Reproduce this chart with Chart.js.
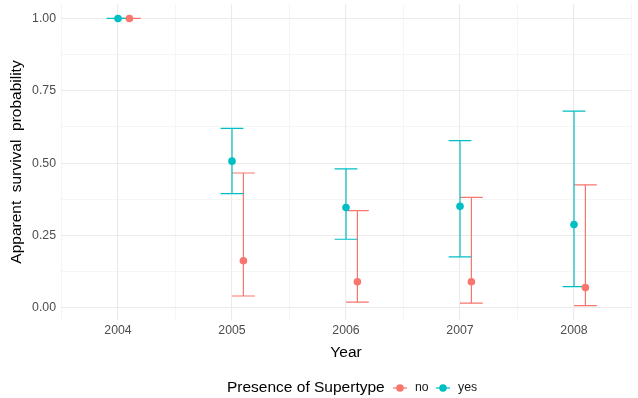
<!DOCTYPE html>
<html>
<head>
<meta charset="utf-8">
<script src="https://cdn.jsdelivr.net/npm/chart.js@4/dist/chart.umd.min.js"></script>
<style>
  body { margin: 0; background: #fff; }
  canvas { display: block; }
</style>
</head>
<body>
<canvas id="chart" width="638" height="398"></canvas>
<script>
// data
const years = [2004, 2005, 2006, 2007, 2008];
const yesEst = [1.0, 0.507, 0.347, 0.351, 0.288];
const yesLow = [1.0, 0.395, 0.237, 0.176, 0.073];
const yesHigh = [1.0, 0.62, 0.48, 0.578, 0.68];
const noEst = [1.0, 0.163, 0.09, 0.09, 0.07];
const noLow = [1.0, 0.041, 0.02, 0.016, 0.008];
const noHigh = [1.0, 0.466, 0.336, 0.382, 0.425];
const yTicks = [0, 0.25, 0.5, 0.75, 1];
const legendTitle = "Presence of Supertype";
const groups = ["no", "yes"];

const teal = "#00BFC4";
const salmon = "#F8766D";
const dodge = 0.1;
const capHalf = 0.1;
const fontFam = "'Liberation Sans', Arial, sans-serif";

function toPoints(est, low, high, shift) {
  return years.map((y, i) => ({ x: y + shift, y: est[i], lo: low[i], hi: high[i] }));
}

const errorBars = {
  id: "errorBars",
  beforeDatasetsDraw(chart) {
    const ctx = chart.ctx;
    const xs = chart.scales.x, ys = chart.scales.y;
    chart.data.datasets.forEach(ds => {
      ctx.save();
      ctx.strokeStyle = ds.borderColor;
      ctx.lineWidth = 1.2;
      ds.data.forEach(p => {
        const x = xs.getPixelForValue(p.x);
        const x0 = xs.getPixelForValue(p.x - capHalf);
        const x1 = xs.getPixelForValue(p.x + capHalf);
        const yl = ys.getPixelForValue(p.lo);
        const yh = ys.getPixelForValue(p.hi);
        ctx.beginPath();
        ctx.moveTo(x, yl); ctx.lineTo(x, yh);
        ctx.moveTo(x0, yl); ctx.lineTo(x1, yl);
        ctx.moveTo(x0, yh); ctx.lineTo(x1, yh);
        ctx.stroke();
      });
      ctx.restore();
    });
  }
};

const bottomLegend = {
  id: "bottomLegend",
  afterDraw(chart) {
    const ctx = chart.ctx;
    const cy = 388;
    ctx.save();
    ctx.textBaseline = "middle";
    ctx.fillStyle = "#000";
    ctx.font = "15.5px " + fontFam;
    ctx.fillText(legendTitle, 227, cy);
    const cols = [salmon, teal];
    const gx = [400, 443];
    ctx.font = "12.3px " + fontFam;
    groups.forEach((g, i) => {
      ctx.strokeStyle = cols[i];
      ctx.fillStyle = cols[i];
      ctx.lineWidth = 1.2;
      ctx.beginPath();
      ctx.moveTo(gx[i] - 7, cy); ctx.lineTo(gx[i] + 7, cy);
      ctx.stroke();
      ctx.beginPath();
      ctx.arc(gx[i], cy, 3.8, 0, Math.PI * 2);
      ctx.fill();
      ctx.fillStyle = "#1a1a1a";
      ctx.fillText(g, gx[i] + 15, cy);
    });
    ctx.restore();
  }
};

const minorCol = "#F3F3F3";
const majorCol = "#EBEBEB";

function noEdgePad(scale) {
  scale.paddingTop = 0;
  scale.paddingBottom = 0;
  scale.paddingLeft = 0;
  scale.paddingRight = 0;
}

new Chart(document.getElementById("chart"), {
  type: "scatter",
  data: {
    datasets: [
      {
        label: "no",
        data: toPoints(noEst, noLow, noHigh, dodge),
        borderColor: salmon,
        backgroundColor: salmon,
        pointRadius: 3.8,
        pointBorderWidth: 0
      },
      {
        label: "yes",
        data: toPoints(yesEst, yesLow, yesHigh, 0),
        borderColor: teal,
        backgroundColor: teal,
        pointRadius: 3.8,
        pointBorderWidth: 0
      }
    ]
  },
  options: {
    responsive: false,
    animation: false,
    layout: { padding: { top: 4, right: 7, bottom: 28, left: 0 } },
    plugins: {
      legend: { display: false },
      tooltip: { enabled: false }
    },
    scales: {
      x: {
        type: "linear",
        min: 2003.5,
        max: 2008.5,
        afterBuildTicks(scale) {
          const t = [];
          for (let v = 2003.5; v <= 2008.5; v += 0.5) t.push({ value: v });
          scale.ticks = t;
        },
        afterFit(scale) { scale.height = 50; noEdgePad(scale); },
        border: { display: false },
        grid: {
          drawTicks: false,
          color: c => Number.isInteger(c.tick.value) ? majorCol : minorCol,
          lineWidth: c => Number.isInteger(c.tick.value) ? 1.1 : 0.8
        },
        ticks: {
          padding: 3,
          color: "#4D4D4D",
          font: { family: fontFam, size: 12.3 },
          maxRotation: 0,
          autoSkip: false,
          callback: v => Number.isInteger(v) && years.includes(v) ? String(v) : ""
        },
        title: {
          display: true,
          text: "Year",
          color: "#000",
          font: { family: fontFam, size: 15.5 },
          padding: { top: 4, bottom: 8 }
        }
      },
      y: {
        min: -0.042,
        max: 1.05,
        afterBuildTicks(scale) {
          const t = [];
          for (let v = 0; v <= 1.0001; v += 0.125) t.push({ value: Math.round(v * 1000) / 1000 });
          scale.ticks = t;
        },
        afterFit(scale) { scale.width = 61; noEdgePad(scale); },
        border: { display: false },
        grid: {
          drawTicks: false,
          color: c => yTicks.includes(c.tick.value) ? majorCol : minorCol,
          lineWidth: c => yTicks.includes(c.tick.value) ? 1.1 : 0.8
        },
        ticks: {
          padding: 5,
          color: "#4D4D4D",
          font: { family: fontFam, size: 12.3 },
          autoSkip: false,
          callback: v => yTicks.includes(v) ? v.toFixed(2) : ""
        },
        title: {
          display: true,
          text: "Apparent  survival  probability",
          color: "#000",
          font: { family: fontFam, size: 15.5 },
          padding: { top: 7, bottom: 0 }
        }
      }
    }
  },
  plugins: [errorBars, bottomLegend]
});
</script>
</body>
</html>
